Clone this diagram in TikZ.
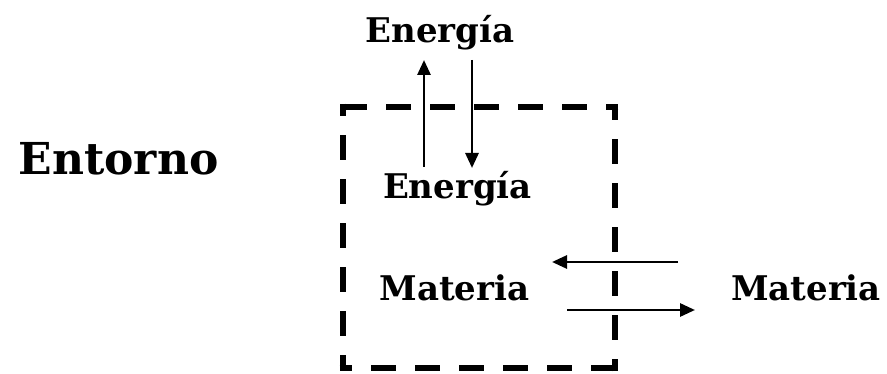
\documentclass[tikz,border=0pt]{standalone}
\usepackage{fontspec}
\setmainfont{DejaVu Serif}
\usetikzlibrary{positioning,arrows.meta}

\tikzset{
    lbl/.style={anchor=base, inner sep=0pt, font=\bfseries\fontsize{34}{40}\selectfont},
    flow/.style={line width=2.8pt, -{Triangle[length=15pt,width=13pt]}},
    sysedge/.style={line width=6.5pt, dash pattern=on 25pt off 19pt, dash phase=12.5pt,
        shorten <=-3.25pt, shorten >=-3.25pt}
}

\begin{document}
\begin{tikzpicture}[x=1pt, y=-1pt]
            \useasboundingbox (0,0) rectangle (887,374);

            % the system: each side dashed on its own, so every corner gets a piece
            \node[minimum width=272pt, minimum height=261pt, inner sep=0pt] (sistema) at (479,237.5) {};
            \foreach \a/\b in {north west/south west, south west/south east,
                               south east/north east, north east/north west}
                \draw[sysedge] (sistema.\a) -- (sistema.\b);

            \node[lbl, font=\bfseries\fontsize{44}{52}\selectfont] (entorno) at (118.5,175) {Entorno};
            \node[lbl] (energiafuera) at (440,43) {Energía};
            \node[lbl] (energiadentro) at (457.5,199) {Energía};
            \node[lbl] (materiadentro) at (454.5,301) {Materia};
            \node[lbl] (materiafuera) at (806,301) {Materia};

            % energy crossing the top edge
            \coordinate (sube0) at (424,167);
            \coordinate (sube1) at (424,60);
            \coordinate (baja0) at (472,60);
            \coordinate (baja1) at (472,168);
            \draw[flow] (sube0) -- (sube1);
            \draw[flow] (baja0) -- (baja1);

            % matter crossing the right edge
            \coordinate (entra0) at (678,262);
            \coordinate (entra1) at (552,262);
            \coordinate (sale0) at (567,310);
            \coordinate (sale1) at (695,310);
            \draw[flow] (entra0) -- (entra1);
            \draw[flow] (sale0) -- (sale1);
        \end{tikzpicture}
\end{document}
